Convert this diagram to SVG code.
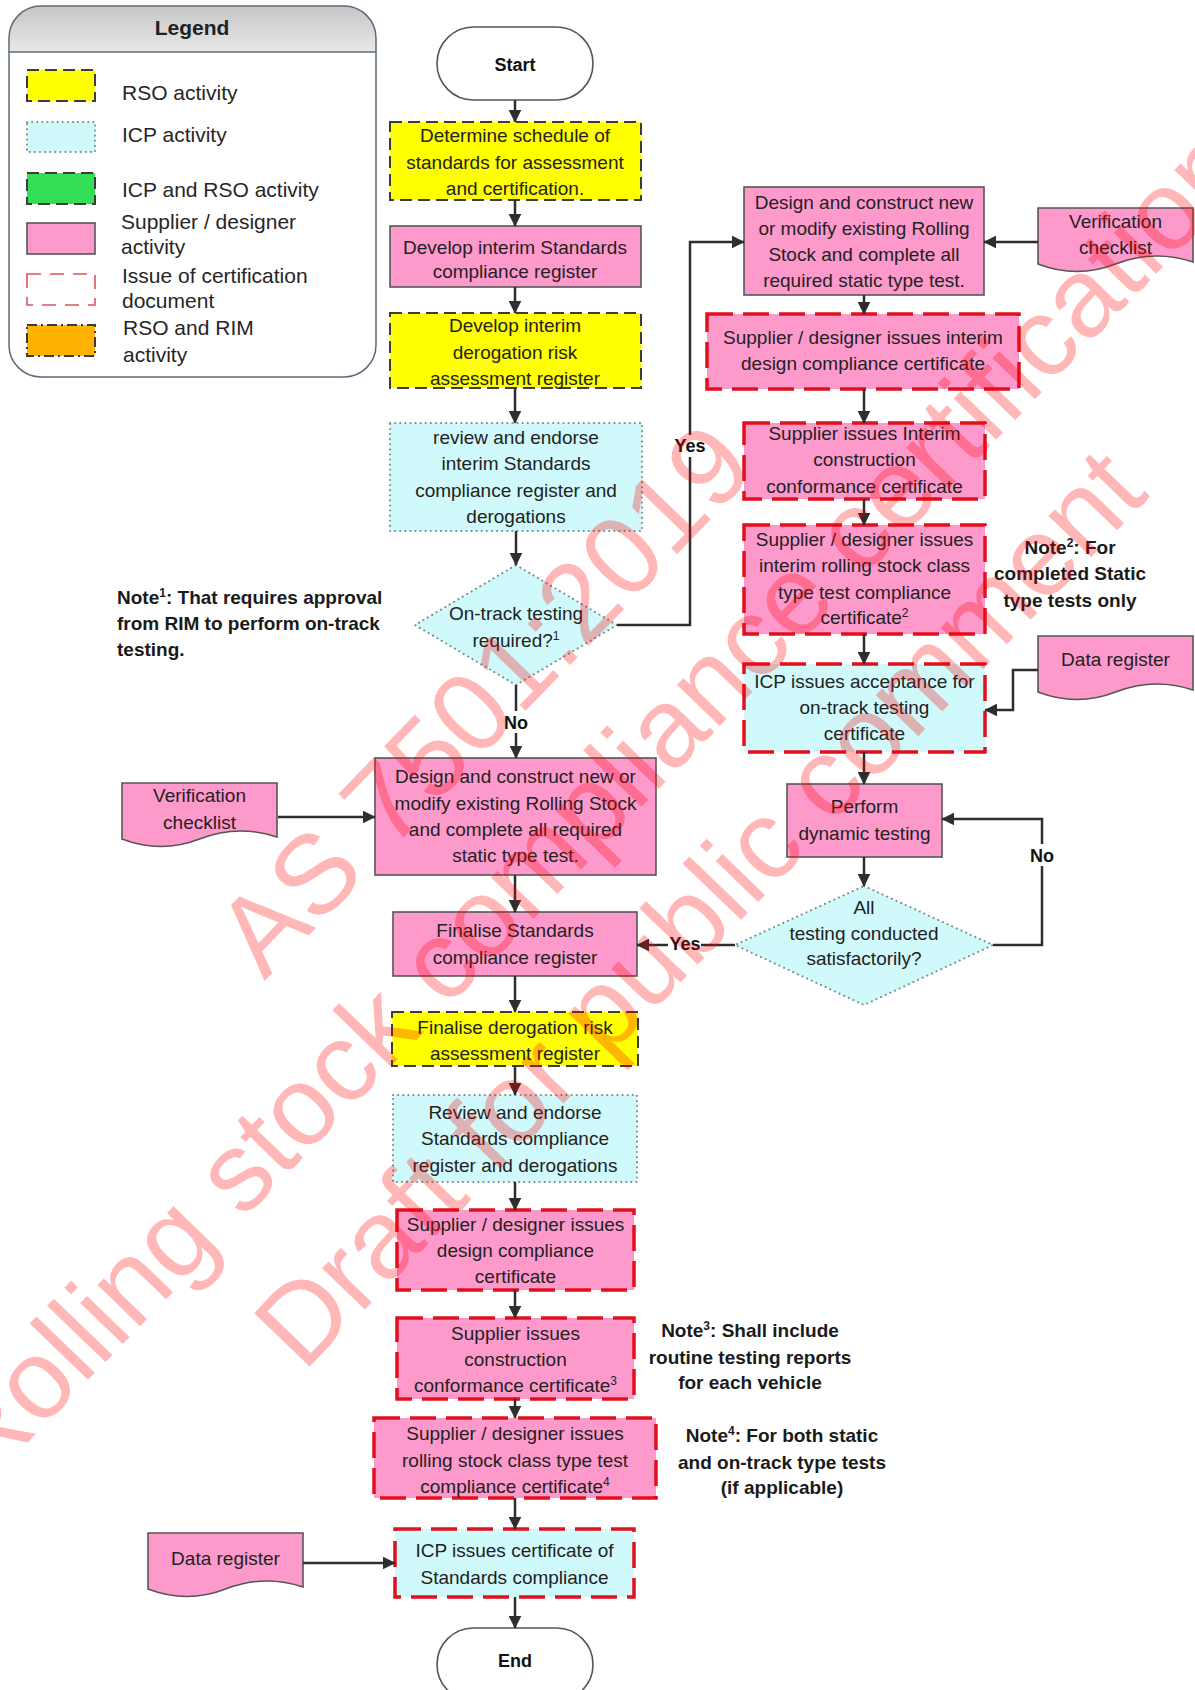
<svg xmlns="http://www.w3.org/2000/svg" width="1195" height="1690" viewBox="0 0 1195 1690">
<defs>
  <linearGradient id="legendHead" x1="0" y1="0" x2="0" y2="1">
    <stop offset="0" stop-color="#c6c6c6"/>
    <stop offset="1" stop-color="#e8e8e8"/>
  </linearGradient>
  <marker id="arrow" viewBox="0 0 10 10" refX="9.5" refY="5" markerWidth="13" markerHeight="13" markerUnits="userSpaceOnUse" orient="auto">
    <path d="M0,0 L10,5 L0,10 z" fill="#2e2e2e"/>
  </marker>
  <!-- document symbol with wavy lower edge, 155 x 65 -->
  <path id="docShape" d="M0,0 H155 V54 Q116,41 77.5,56 T0,56 Z"/>
</defs>
<style>
  text { font-family: "Liberation Sans", Arial, sans-serif; fill: #222; }
  .t { font-size: 19px; text-anchor: middle; }
  .note { font-size: 19px; font-weight: bold; fill: #1a1a1a; }
  .mid { text-anchor: middle; }
  .lg { font-size: 21px; fill: #262626; }
  .rso { fill: #ffff00; stroke: #3c3c3c; stroke-width: 2; stroke-dasharray: 12 6; }
  .icp { fill: #cff9fb; stroke: #7a8888; stroke-width: 2; stroke-dasharray: 0.1 5; stroke-linecap: round; }
  .sup { fill: #fe99cc; stroke: #555; stroke-width: 1.6; }
  .cert { stroke: #e0101c; stroke-width: 3.5; stroke-dasharray: 26 10; stroke-linecap: butt; }
  .term { fill: #fff; stroke: #555; stroke-width: 1.6; }
  .doc { fill: #fe99cc; stroke: #555; stroke-width: 1.6; }
  .conn { fill: none; stroke: #2e2e2e; stroke-width: 2.5; }
  .lbl { font-size: 18px; font-weight: bold; text-anchor: middle; fill: #111; }
  .wm { font-size: 112px; fill: #ff0000; text-anchor: middle; }
</style>

<rect width="1195" height="1690" fill="#ffffff"/>

<!-- Legend panel -->
<g id="legend">
  <rect x="9" y="6" width="367" height="371" rx="32" fill="#ffffff"/>
  <path d="M9,52 V38 A32,32 0 0 1 41,6 H344 A32,32 0 0 1 376,38 V52 Z" fill="url(#legendHead)"/>
  <line x1="9" y1="52" x2="376" y2="52" stroke="#5b6b7b" stroke-width="1.5"/>
  <rect x="9" y="6" width="367" height="371" rx="32" fill="none" stroke="#5b6b7b" stroke-width="1.5"/>
  <text x="192" y="35" class="mid" font-size="21" font-weight="bold">Legend</text>
  <rect x="27" y="70" width="68" height="31" class="rso"/>
  <rect x="27" y="122" width="68" height="30" class="icp"/>
  <rect x="27" y="173" width="68" height="31" fill="#33e055" stroke="#3c3c3c" stroke-width="2" stroke-dasharray="12 6"/>
  <rect x="27" y="223" width="68" height="31" class="sup"/>
  <rect x="27" y="274" width="68" height="31" fill="#ffffff" stroke="#e0505f" stroke-width="1.6" stroke-dasharray="14 9"/>
  <rect x="27" y="325" width="68" height="31" fill="#ffb300" stroke="#3c3c3c" stroke-width="2" stroke-dasharray="10 4 2 4"/>
  <text x="122" y="100" class="lg">RSO activity</text>
  <text x="122" y="142" class="lg">ICP activity</text>
  <text x="122" y="197" class="lg">ICP and RSO activity</text>
  <text x="121" y="229" class="lg">Supplier / designer</text>
  <text x="121" y="254" class="lg">activity</text>
  <text x="122" y="283" class="lg">Issue of certification</text>
  <text x="122" y="308" class="lg">document</text>
  <text x="123" y="335" class="lg">RSO and RIM</text>
  <text x="123" y="362" class="lg">activity</text>
</g>

<!-- Main column -->
<g id="start">
  <rect x="437" y="27" width="156" height="73" rx="36.5" class="term"/>
  <text x="515" y="71" class="lbl">Start</text>
</g>
<g id="determine-schedule">
  <rect x="390" y="122" width="251" height="78" class="rso"/>
  <text class="t" x="515" y="141.5">Determine schedule of</text>
  <text class="t" x="515" y="168.5">standards for assessment</text>
  <text class="t" x="515" y="194.5">and certification.</text>
</g>
<g id="develop-interim-register">
  <rect x="390" y="226" width="251" height="61" class="sup"/>
  <text class="t" x="515" y="253.5">Develop interim Standards</text>
  <text class="t" x="515" y="277.5">compliance register</text>
</g>
<g id="develop-interim-derogation">
  <rect x="390" y="313" width="251" height="75" class="rso"/>
  <text class="t" x="515" y="331.5">Develop interim</text>
  <text class="t" x="515" y="358.5">derogation risk</text>
  <text class="t" x="515" y="384.5">assessment register</text>
</g>
<g id="review-interim">
  <rect x="390" y="423" width="252" height="108" class="icp"/>
  <text class="t" x="516" y="443.5">review and endorse</text>
  <text class="t" x="516" y="469.5">interim Standards</text>
  <text class="t" x="516" y="496.5">compliance register and</text>
  <text class="t" x="516" y="522.5">derogations</text>
</g>
<g id="on-track-decision">
  <polygon points="516,565 617,625 516,685 415,625" class="icp"/>
  <text class="t" x="516" y="619.5">On-track testing</text>
  <text class="t" x="516" y="646.5">required?<tspan dy="-7" font-size="12">1</tspan></text>
</g>
<g id="note1">
  <text class="note" x="117" y="603.5">Note<tspan dy="-7" font-size="12">1</tspan><tspan dy="7">: That requires approval</tspan></text>
  <text class="note" x="117" y="629.5">from RIM to perform on-track</text>
  <text class="note" x="117" y="655.5">testing.</text>
</g>
<g id="design-construct-static">
  <rect x="375" y="758" width="281" height="117" class="sup"/>
  <text class="t" x="515.5" y="782.5">Design and construct new or</text>
  <text class="t" x="515.5" y="809.5">modify existing Rolling Stock</text>
  <text class="t" x="515.5" y="835.5">and complete all required</text>
  <text class="t" x="515.5" y="861.5">static type test.</text>
</g>
<g id="verification-checklist-left">
  <use href="#docShape" x="122" y="783" class="doc"/>
  <text class="t" x="199.5" y="801.5">Verification</text>
  <text class="t" x="199.5" y="828.5">checklist</text>
</g>
<g id="finalise-standards">
  <rect x="393" y="912" width="244" height="64" class="sup"/>
  <text class="t" x="515" y="936.5">Finalise Standards</text>
  <text class="t" x="515" y="963.5">compliance register</text>
</g>
<g id="finalise-derogation">
  <rect x="392" y="1012" width="246" height="54" class="rso"/>
  <text class="t" x="515" y="1033.5">Finalise derogation risk</text>
  <text class="t" x="515" y="1059.5">assessment register</text>
</g>
<g id="review-final">
  <rect x="393" y="1095" width="244" height="87" class="icp"/>
  <text class="t" x="515" y="1118.5">Review and endorse</text>
  <text class="t" x="515" y="1144.5">Standards compliance</text>
  <text class="t" x="515" y="1171.5">register and derogations</text>
</g>
<g id="design-compliance-cert">
  <rect x="397" y="1210" width="237" height="80" class="sup cert"/>
  <text class="t" x="515.5" y="1230.5">Supplier / designer issues</text>
  <text class="t" x="515.5" y="1256.5">design compliance</text>
  <text class="t" x="515.5" y="1282.5">certificate</text>
</g>
<g id="construction-cert">
  <rect x="397" y="1318" width="237" height="81" class="sup cert"/>
  <text class="t" x="515.5" y="1339.5">Supplier issues</text>
  <text class="t" x="515.5" y="1365.5">construction</text>
  <text class="t" x="515.5" y="1391.5">conformance certificate<tspan dy="-7" font-size="12">3</tspan></text>
</g>
<g id="note3">
  <text class="note mid" x="750" y="1336.5">Note<tspan dy="-7" font-size="12">3</tspan><tspan dy="7">: Shall include</tspan></text>
  <text class="note mid" x="750" y="1363.5">routine testing reports</text>
  <text class="note mid" x="750" y="1388.5">for each vehicle</text>
</g>
<g id="class-type-test-cert">
  <rect x="374" y="1418" width="282" height="80" class="sup cert"/>
  <text class="t" x="515" y="1439.5">Supplier / designer issues</text>
  <text class="t" x="515" y="1466.5">rolling stock class type test</text>
  <text class="t" x="515" y="1492.5">compliance certificate<tspan dy="-7" font-size="12">4</tspan></text>
</g>
<g id="note4">
  <text class="note mid" x="782" y="1441.5">Note<tspan dy="-7" font-size="12">4</tspan><tspan dy="7">: For both static</tspan></text>
  <text class="note mid" x="782" y="1468.5">and on-track type tests</text>
  <text class="note mid" x="782" y="1493.5">(if applicable)</text>
</g>
<g id="standards-compliance-cert">
  <rect x="395" y="1529" width="239" height="68" class="icp cert"/>
  <text class="t" x="514.5" y="1556.5">ICP issues certificate of</text>
  <text class="t" x="514.5" y="1583.5">Standards compliance</text>
</g>
<g id="data-register-left">
  <use href="#docShape" x="148" y="1533" class="doc"/>
  <text class="t" x="225.5" y="1564.5">Data register</text>
</g>
<g id="end">
  <rect x="437" y="1628" width="156" height="73" rx="36.5" class="term"/>
  <text x="515" y="1667" class="lbl">End</text>
</g>

<!-- On-track branch -->
<g id="design-construct-ontrack">
  <rect x="744" y="187" width="240" height="108" class="sup"/>
  <text class="t" x="864" y="208.5">Design and construct new</text>
  <text class="t" x="864" y="234.5">or modify existing Rolling</text>
  <text class="t" x="864" y="260.5">Stock and complete all</text>
  <text class="t" x="864" y="286.5">required static type test.</text>
</g>
<g id="verification-checklist-right">
  <use href="#docShape" x="1038" y="208" class="doc"/>
  <text class="t" x="1115.5" y="227.5">Verification</text>
  <text class="t" x="1115.5" y="253.5">checklist</text>
</g>
<g id="interim-design-cert">
  <rect x="707" y="314" width="312" height="75" class="sup cert"/>
  <text class="t" x="863" y="343.5">Supplier / designer issues interim</text>
  <text class="t" x="863" y="369.5">design compliance certificate</text>
</g>
<g id="interim-construction-cert">
  <rect x="744" y="423" width="241" height="76" class="sup cert"/>
  <text class="t" x="864.5" y="439.5">Supplier issues Interim</text>
  <text class="t" x="864.5" y="465.5">construction</text>
  <text class="t" x="864.5" y="492.5">conformance certificate</text>
</g>
<g id="interim-class-cert">
  <rect x="744" y="525" width="241" height="109" class="sup cert"/>
  <text class="t" x="864.5" y="545.5">Supplier / designer issues</text>
  <text class="t" x="864.5" y="571.5">interim rolling stock class</text>
  <text class="t" x="864.5" y="598.5">type test compliance</text>
  <text class="t" x="864.5" y="623.5">certificate<tspan dy="-7" font-size="12">2</tspan></text>
</g>
<g id="note2">
  <text class="note mid" x="1070" y="553.5">Note<tspan dy="-7" font-size="12">2</tspan><tspan dy="7">: For</tspan></text>
  <text class="note mid" x="1070" y="579.5">completed Static</text>
  <text class="note mid" x="1070" y="606.5">type tests only</text>
</g>
<g id="ontrack-acceptance-cert">
  <rect x="744" y="664" width="241" height="88" class="icp cert"/>
  <text class="t" x="864.5" y="687.5">ICP issues acceptance for</text>
  <text class="t" x="864.5" y="713.5">on-track testing</text>
  <text class="t" x="864.5" y="739.5">certificate</text>
</g>
<g id="data-register-right">
  <use href="#docShape" x="1038" y="636" class="doc"/>
  <text class="t" x="1115.5" y="665.5">Data register</text>
</g>
<g id="dynamic-testing">
  <rect x="787" y="784" width="155" height="73" class="sup"/>
  <text class="t" x="864.5" y="812.5">Perform</text>
  <text class="t" x="864.5" y="839.5">dynamic testing</text>
</g>
<g id="testing-decision">
  <polygon points="864,886 993,945 864,1005 735,945" class="icp"/>
  <text class="t" x="864" y="913.5">All</text>
  <text class="t" x="864" y="939.5">testing conducted</text>
  <text class="t" x="864" y="964.5">satisfactorily?</text>
</g>

<!-- Connectors -->
<g id="connectors">
  <path class="conn" marker-end="url(#arrow)" d="M515,100 V122"/>
  <path class="conn" marker-end="url(#arrow)" d="M515,200 V226"/>
  <path class="conn" marker-end="url(#arrow)" d="M515,287 V313"/>
  <path class="conn" marker-end="url(#arrow)" d="M515,388 V423"/>
  <path class="conn" marker-end="url(#arrow)" d="M516,531 V565"/>
  <path class="conn" marker-end="url(#arrow)" d="M516,685 V758"/>
  <path class="conn" marker-end="url(#arrow)" d="M617,625 H690 V242 H744"/>
  <path class="conn" marker-end="url(#arrow)" d="M278,817 H375"/>
  <path class="conn" marker-end="url(#arrow)" d="M515,875 V912"/>
  <path class="conn" marker-end="url(#arrow)" d="M515,976 V1012"/>
  <path class="conn" marker-end="url(#arrow)" d="M515,1066 V1095"/>
  <path class="conn" marker-end="url(#arrow)" d="M515,1182 V1210"/>
  <path class="conn" marker-end="url(#arrow)" d="M515,1290 V1318"/>
  <path class="conn" marker-end="url(#arrow)" d="M515,1399 V1418"/>
  <path class="conn" marker-end="url(#arrow)" d="M515,1498 V1529"/>
  <path class="conn" marker-end="url(#arrow)" d="M303,1563 H395"/>
  <path class="conn" marker-end="url(#arrow)" d="M515,1597 V1628"/>
  <path class="conn" marker-end="url(#arrow)" d="M1038,242 H984"/>
  <path class="conn" marker-end="url(#arrow)" d="M864,295 V314"/>
  <path class="conn" marker-end="url(#arrow)" d="M864,389 V423"/>
  <path class="conn" marker-end="url(#arrow)" d="M864,499 V525"/>
  <path class="conn" marker-end="url(#arrow)" d="M864,634 V664"/>
  <path class="conn" marker-end="url(#arrow)" d="M1038,670 H1013 V710 H985"/>
  <path class="conn" marker-end="url(#arrow)" d="M864,752 V784"/>
  <path class="conn" marker-end="url(#arrow)" d="M864,857 V886"/>
  <path class="conn" marker-end="url(#arrow)" d="M735,945 H637"/>
  <path class="conn" marker-end="url(#arrow)" d="M993,945 H1042 V819 H942"/>
  <rect x="500" y="711" width="32" height="22" fill="#fff"/>
  <text class="lbl" x="516" y="729">No</text>
  <rect x="672" y="435" width="36" height="22" fill="#fff"/>
  <text class="lbl" x="690" y="452">Yes</text>
  <rect x="668" y="934" width="33" height="20" fill="#fff"/>
  <text class="lbl" x="685" y="950">Yes</text>
  <rect x="1029" y="844" width="26" height="22" fill="#fff"/>
  <text class="lbl" x="1042" y="862">No</text>
</g>

<!-- Draft watermark -->
<g id="watermark" transform="translate(591,803) rotate(-46)" opacity="0.28">
  <text class="wm" x="0" y="-111">AS 7501:2019</text>
  <text class="wm" x="0" y="39">Rolling stock compliance certification</text>
  <text class="wm" x="0" y="189">Draft for public comment</text>
</g>
</svg>
